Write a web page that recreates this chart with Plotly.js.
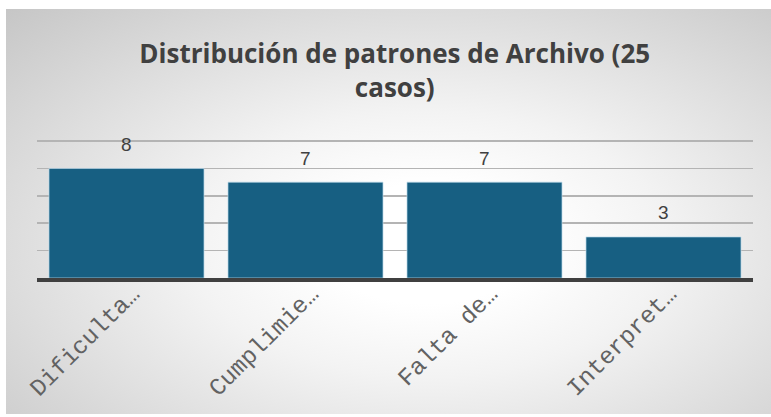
<!DOCTYPE html>
<html>
<head>
<meta charset="utf-8">
<script src="https://cdn.plot.ly/plotly-3.0.1.min.js"></script>
<style>
  html, body { margin: 0; padding: 0; background: #ffffff; }
  #wrap { position: relative; width: 771px; height: 417px; overflow: hidden; }
  #bg {
    position: absolute; left: 6px; top: 9px; width: 765px; height: 405px;
    background: radial-gradient(ellipse farthest-corner at 55% 58%, #ffffff 18%, #f3f3f3 40%, #c6c6c6 100%);
  }
  #chart { position: absolute; left: 0; top: 0; width: 771px; height: 417px; }
</style>
</head>
<body>
<div id="wrap">
  <div id="bg"></div>
  <div id="chart"></div>
</div>
<script>
const categories = ["Dificulta…", "Cumplimie…", "Falta de…", "Interpret…"];
const values = [8, 7, 7, 3];
const titleText = "Distribución de patrones de Archivo (25<br>casos)";

const trace = {
  type: "bar",
  x: categories,
  y: values,
  marker: { color: "#175f82", line: { color: "rgba(190,220,235,0.7)", width: 1 } },
  hoverinfo: "x+y"
};

const annotations = categories.map((c, i) => ({
  x: c, y: values[i], xref: "x", yref: "y",
  text: String(values[i]), showarrow: false,
  yanchor: "middle", yshift: 24,
  font: { family: "Liberation Sans, Arial, sans-serif", size: 19, color: "#404040" }
}));

const layout = {
  width: 771, height: 417,
  margin: { l: 37, r: 18, t: 140, b: 139, pad: 0 },
  paper_bgcolor: "rgba(0,0,0,0)",
  plot_bgcolor: "rgba(0,0,0,0)",
  bargap: 0.134,
  showlegend: false,
  title: {
    text: titleText,
    x: 0.512, xanchor: "center",
    y: 0.849, yanchor: "top", yref: "container",
    font: { family: "Open Sans, sans-serif", size: 26, color: "#404040", weight: 700 }
  },
  xaxis: {
    type: "category",
    range: [-0.5, 3.5],
    showline: true, linecolor: "#404040", linewidth: 4,
    showgrid: false, zeroline: false,
    ticks: "", tickangle: -45,
    ticklabelstandoff: -12, ticklabelshift: 6,
    tickfont: { family: "Courier New, Liberation Mono, monospace", size: 24, color: "#626262" },
    fixedrange: true
  },
  yaxis: {
    range: [0, 10.08], tickvals: [0, 2, 4, 6, 8, 10],
    showgrid: true, gridcolor: "#b4b4b4", gridwidth: 1.5,
    zeroline: false, showline: false,
    showticklabels: false, ticks: "",
    fixedrange: true
  },
  annotations: annotations
};

Plotly.newPlot("chart", [trace], layout, { displayModeBar: false, staticPlot: true });
</script>
</body>
</html>
